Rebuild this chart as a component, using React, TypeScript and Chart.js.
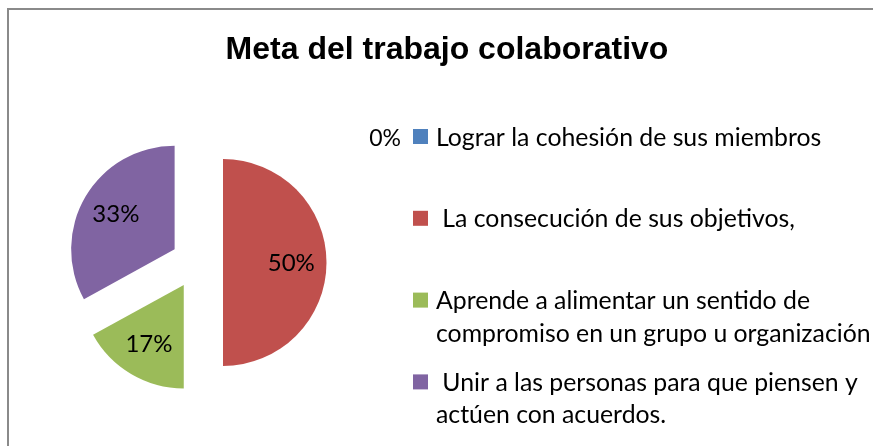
import React, { useEffect, useRef } from "react";
import { Chart, registerables } from "chart.js";

Chart.register(...registerables);

const title = "Meta del trabajo colaborativo";
const categories: string[][] = [
  ["Lograr la cohesión de sus miembros"],
  [" La consecución de sus objetivos,"],
  ["Aprende a alimentar un sentido de", "compromiso en un grupo u organización"],
  [" Unir a las personas para que piensen y", "actúen con acuerdos."],
];
const values = [0, 50, 17, 33];
const colors = ["#4F81BD", "#C0504D", "#9BBB59", "#8064A2"];

const PIE_CX = 197;
const PIE_CY = 262.5;
const PIE_R = 103.5;
const EXPLODE = 26;
const W = 873;
const H = 446;

const LEG_BOX_X = 413;
const LEG_TEXT_X = 436;
const LEG_Y0 = 136.5;
const LEG_STEP = 81.8;
const LEG_LINE = 32.5;

const total = values.reduce((a, b) => a + b, 0);

// Excel-style explosion: move every slice outward along its bisector by the same distance
const explode = {
  id: "explode",
  afterDatasetsUpdate(chart: any) {
    const meta = chart.getDatasetMeta(0);
    meta.data.forEach((arc: any) => {
      const mid = (arc.startAngle + arc.endAngle) / 2;
      arc.x += Math.cos(mid) * EXPLODE;
      arc.y += Math.sin(mid) * EXPLODE;
    });
  },
};

const overlay = {
  id: "overlay",
  afterDatasetsDraw(chart: any) {
    const ctx: CanvasRenderingContext2D = chart.ctx;
    ctx.save();
    ctx.fillStyle = "#000";
    ctx.font = 'bold 32px "Liberation Sans", Arial, sans-serif';
    ctx.textAlign = "center";
    ctx.textBaseline = "alphabetic";
    ctx.fillText(title, 447, 59);

    categories.forEach((lines, i) => {
      const rowY = LEG_Y0 + i * LEG_STEP;
      ctx.fillStyle = colors[i];
      ctx.fillRect(LEG_BOX_X, rowY - 7.5, 15, 15);
      ctx.fillStyle = "#000";
      ctx.font = '24.8px Lato, "Noto Sans", sans-serif';
      ctx.textAlign = "left";
      ctx.textBaseline = "alphabetic";
      lines.forEach((ln, j) => ctx.fillText(ln, LEG_TEXT_X, rowY + 9 + j * LEG_LINE));
    });

    const meta = chart.getDatasetMeta(0);
    ctx.fillStyle = "#000";
    ctx.textBaseline = "alphabetic";
    meta.data.forEach((arc: any, i: number) => {
      const txt = Math.round((values[i] / total) * 100) + "%";
      if (values[i] === 0) {
        ctx.font = '23px Lato, "Noto Sans", sans-serif';
        ctx.textAlign = "right";
        ctx.fillText(txt, LEG_BOX_X - 12, LEG_Y0 + i * LEG_STEP + 9);
        return;
      }
      ctx.font = '24px Lato, "Noto Sans", sans-serif';
      const mid = (arc.startAngle + arc.endAngle) / 2;
      const d = arc.outerRadius * 0.66;
      const lx = arc.x + Math.cos(mid) * d;
      const ly = arc.y + Math.sin(mid) * d;
      ctx.textAlign = "center";
      ctx.fillText(txt, lx, ly + 8);
    });
    ctx.restore();
  },
};

export default function App() {
  const ref = useRef<HTMLCanvasElement | null>(null);
  useEffect(() => {
    if (!ref.current) return;
    const topPad = 2 * PIE_CY - H;
    const chart = new Chart(ref.current, {
      type: "pie",
      data: {
        labels: categories,
        datasets: [
          {
            data: values,
            backgroundColor: colors,
            borderWidth: 0,
          },
        ],
      },
      options: {
        responsive: false,
        animation: false,
        events: [],
        radius: PIE_R,
        layout: {
          padding: { left: 0, right: W - 2 * PIE_CX, top: topPad, bottom: 0 },
        },
        plugins: {
          legend: { display: false },
          title: { display: false },
          tooltip: { enabled: false },
        },
      } as any,
      plugins: [explode, overlay],
    });
    return () => chart.destroy();
  }, []);
  return (
    <div style={{ position: "fixed", left: 0, top: 0, width: W, height: H, background: "#fff", overflow: "hidden" }}>
      <div
        style={{
          position: "absolute",
          left: 7,
          top: 8,
          width: W + 20,
          height: H + 20,
          borderLeft: "2px solid #8a8a8a",
          borderTop: "2px solid #8a8a8a",
          boxSizing: "border-box",
        }}
      />
      <canvas ref={ref} width={W} height={H} style={{ position: "absolute", left: 0, top: 0 }} />
    </div>
  );
}
